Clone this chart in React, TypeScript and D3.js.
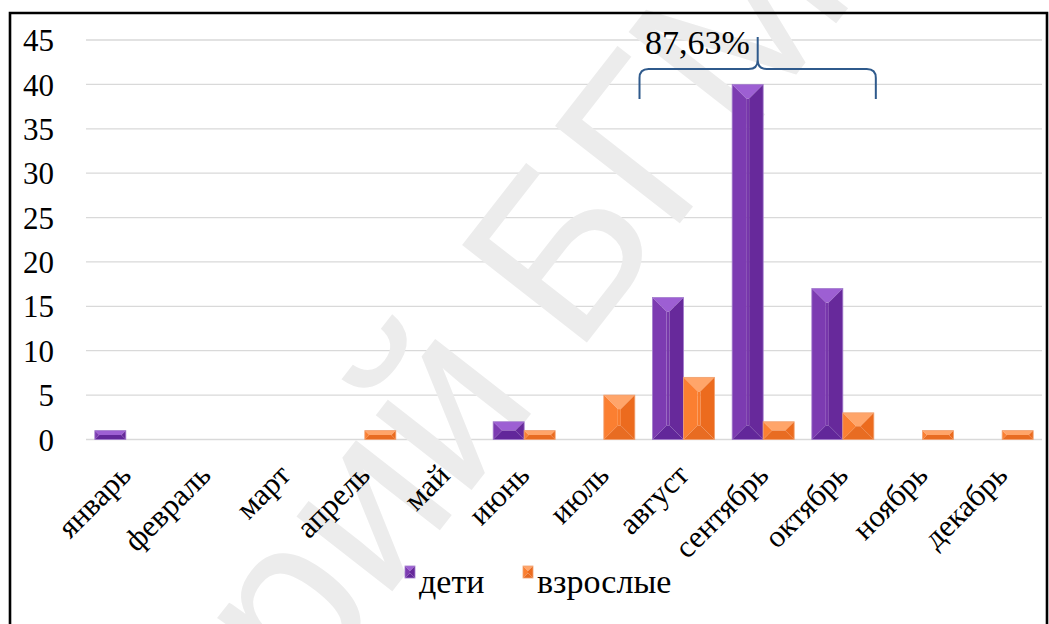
import React from "react";
import * as d3 from "d3";

const months = ["январь","февраль","март","апрель","май","июнь","июль","август","сентябрь","октябрь","ноябрь","декабрь"];
const seriesNames = ["дети","взрослые"];
const children = [1,0,0,0,0,2,0,16,40,17,0,0];
const adults = [0,0,0,1,0,1,5,7,2,3,1,1];
const yTicks = [0,5,10,15,20,25,30,35,40,45];
const annotation = "87,63%";
const watermarkLeft = "Репозиторий";
const watermarkRight = "БГМУ";

const W = 1049, H = 624;
const SERIF = "'Liberation Serif', 'Times New Roman', Times, Tinos, 'Noto Serif', 'DejaVu Serif', FreeSerif, 'Nimbus Roman', serif";

const palettes = [
  { top: "#9d5fd3", left: "#7c3bb1", mid: "#7737ab", right: "#67299b", bottom: "#62279a", stroke: "#a27ccc" },
  { top: "#ffa56a", left: "#fb7f31", mid: "#f87b2c", right: "#ec6b1e", bottom: "#e86c22", stroke: "#f0a070" },
];

function BevelBar({ x, y, w, h, p }: { x: number; y: number; w: number; h: number; p: any }) {
  if (h <= 0) return null;
  const d = Math.min(w / 2, h / 2, 14);
  const x0 = x, x1 = x + w, y0 = y, y1 = y + h;
  const ix0 = x0 + d, ix1 = x1 - d, iy0 = y0 + d, iy1 = y1 - d;
  const pts = (a: number[][]) => a.map((q) => q.join(",")).join(" ");
  return (
    <g>
      <polygon points={pts([[ix0, iy0], [ix1, iy0], [ix1, iy1], [ix0, iy1]])} fill={p.mid} />
      <polygon points={pts([[x0, y0], [x1, y0], [ix1, iy0], [ix0, iy0]])} fill={p.top} />
      <polygon points={pts([[x0, y0], [ix0, iy0], [ix0, iy1], [x0, y1]])} fill={p.left} />
      <polygon points={pts([[x1, y0], [x1, y1], [ix1, iy1], [ix1, iy0]])} fill={p.right} />
      <polygon points={pts([[x0, y1], [ix0, iy1], [ix1, iy1], [x1, y1]])} fill={p.bottom} />
      <rect x={x0} y={y0} width={w} height={h} fill="none" stroke={p.stroke} strokeWidth={0.8} />
    </g>
  );
}

export default function App() {
  const left = 86, right = 1042;
  const x = d3.scaleBand<string>().domain(months).range([left, right]).padding(0);
  const groupW = x.bandwidth() * 0.778;
  const xs = d3.scaleBand<string>().domain(seriesNames).range([0, groupW]).padding(0);
  const y = d3.scaleLinear().domain([0, 45]).range([439.5, 40]);
  const data = [children, adults];

  const bx0 = x("август")! + (x.bandwidth() - groupW) / 2 - 13;
  const bx1 = x("октябрь")! + (x.bandwidth() + groupW) / 2 + 2;
  const bmid = 757.7;
  const by = 69, r = 9;
  const bracePath = [
    `M${bx0},99 L${bx0},${by + r} Q${bx0},${by} ${bx0 + r},${by}`,
    `L${bmid - r},${by} Q${bmid},${by} ${bmid},${by - r} L${bmid},37`,
    `M${bmid},${by - r} Q${bmid},${by} ${bmid + r},${by} L${bx1 - r},${by} Q${bx1},${by} ${bx1},${by + r} L${bx1},99`,
  ].join(" ");

  const serifStyle = { fontFamily: SERIF };

  return (
    <svg width={W} height={H} style={{ position: "absolute", left: 0, top: 0, background: "#fff" }}>
      <rect x={0} y={0} width={W} height={H} fill="#fff" />
      {yTicks.map((t) => (
        <line key={"g" + t} x1={left} x2={right} y1={y(t)} y2={y(t)} stroke="#d9d9d9" strokeWidth={1.3} />
      ))}
      <g transform="translate(495,330) rotate(-52)" fill="#ececec" style={{ fontFamily: "'Liberation Sans', Arial, sans-serif" }} fontSize={230}>
        <text x={-28} y={80} textAnchor="end">{watermarkLeft}</text>
        <text x={28} y={80} textAnchor="start">{watermarkRight}</text>
      </g>
      {yTicks.map((t) => (
        <text key={"t" + t} x={54} y={y(t)} dy="0.36em" textAnchor="end" style={serifStyle} fontSize={31} fill="#000">{t}</text>
      ))}
      {months.map((m, i) => (
        <g key={m} transform={`translate(${x(m)! + (x.bandwidth() - groupW) / 2},0)`}>
          {seriesNames.map((s, k) => {
            const v = data[k][i];
            return <BevelBar key={s} x={xs(s)!} y={y(v)} w={xs.bandwidth()} h={y(0) - y(v)} p={palettes[k]} />;
          })}
        </g>
      ))}
      {months.map((m) => {
        const cx = x(m)! + x.bandwidth() / 2 + 7;
        return (
          <text key={"l" + m} transform={`translate(${cx},477) rotate(-45)`} textAnchor="end" style={serifStyle} fontSize={31} fill="#000">{m}</text>
        );
      })}
      <path d={bracePath} fill="none" stroke="#2f5a8c" strokeWidth={2} />
      <text x={645} y={54} style={serifStyle} fontSize={34} fill="#000">{annotation}</text>
      {seriesNames.map((s, k) => {
        const lx = [405, 523][k];
        return (
          <g key={"lg" + s}>
            <BevelBar x={lx} y={566} w={10} h={12} p={palettes[k]} />
            <text x={lx + 14} y={593} style={serifStyle} fontSize={34} fill="#000">{s}</text>
          </g>
        );
      })}
      <path d={`M10,624 L10,13 L1047,13 L1047,624`} fill="none" stroke="#000" strokeWidth={2.6} />
    </svg>
  );
}
